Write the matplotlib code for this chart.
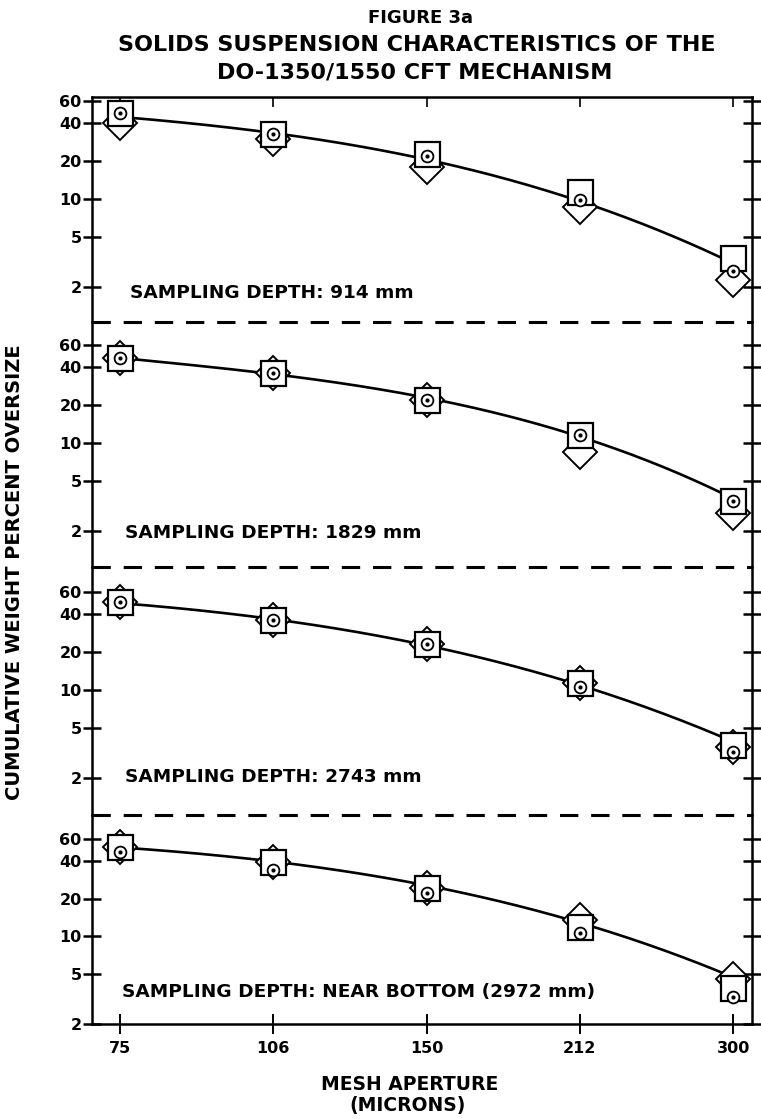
import numpy as np
import matplotlib
matplotlib.use("Agg")
import matplotlib.pyplot as plt

# --------------------------------------------------------------
# Data
# --------------------------------------------------------------
mesh = [75, 106, 150, 212, 300]
mesh_labels = ["75", "106", "150", "212", "300"]
depth_labels = [
    "SAMPLING DEPTH: 914 mm",
    "SAMPLING DEPTH: 1829 mm",
    "SAMPLING DEPTH: 2743 mm",
    "SAMPLING DEPTH: NEAR BOTTOM (2972 mm)",
]

# circle-with-dot series
circle_914 = [48, 33, 22, 9.8, 2.7]
circle_1829 = [47, 36, 22, 11.6, 3.5]
circle_2743 = [50, 36, 23, 10.5, 3.2]
circle_2972 = [47, 34, 22, 10.6, 3.3]

# square series
square_914 = [48, 33, 22.7, 11.4, 3.4]
square_1829 = [47, 36, 22, 11.6, 3.5]
square_2743 = [50, 36, 23, 11.3, 3.66]
square_2972 = [52, 39, 24.5, 11.9, 3.9]

# diamond series
diamond_914 = [40, 30, 18, 8.6, 2.3]
diamond_1829 = [47, 36, 22, 8.5, 2.8]
diamond_2743 = [50, 36, 23, 11.3, 3.5]
diamond_2972 = [52, 39, 24.5, 13.6, 4.6]

# fitted curve values at each mesh size
curve_914 = [45, 33, 21, 9.5, 3.1]
curve_1829 = [47, 36, 22, 11.5, 3.6]
curve_2743 = [49, 36, 23, 10.8, 3.9]
curve_2972 = [51, 40, 25, 13, 4.7]

circles = [circle_914, circle_1829, circle_2743, circle_2972]
squares = [square_914, square_1829, square_2743, square_2972]
diamonds = [diamond_914, diamond_1829, diamond_2743, diamond_2972]
curves = [curve_914, curve_1829, curve_2743, curve_2972]

yticks = [2, 5, 10, 20, 40, 60]
ylims = [(1.06, 64.5), (1.04, 91), (1.02, 94.5), (2.0, 92.8)]

# --------------------------------------------------------------
# Figure layout
# --------------------------------------------------------------
W, H = 761, 1119
fig = plt.figure(figsize=(W / 100, H / 100), dpi=100)
plt.rcParams["font.family"] = ["DejaVu Sans"]
plt.rcParams["font.weight"] = "bold"

left_px, right_px = 92, 752
bounds = [97, 322, 567, 815, 1024]  # panel edges, px from top
text_pos = [(0.058, 0.129), (0.05, 0.139), (0.05, 0.153), (0.045, 0.153)]

axes = []
for i in range(4):
    top, bot = bounds[i], bounds[i + 1]
    ax = fig.add_axes([left_px / W, 1 - bot / H, (right_px - left_px) / W, (bot - top) / H])
    ax.patch.set_alpha(0)
    axes.append(ax)
    ax.set_xscale("log")
    ax.set_yscale("log")
    ax.set_xlim(70.4, 313)
    ax.set_ylim(*ylims[i])

    # smooth curve through the data (cubic in log-log)
    lx = np.log10(mesh)
    coef = np.polyfit(lx, np.log10(curves[i]), 3)
    xs = np.logspace(lx[0], lx[-1], 200)
    ax.plot(xs, 10 ** np.polyval(coef, np.log10(xs)), color="black", lw=1.9, zorder=2)

    ax.plot(mesh, diamonds[i], "D", ms=17.5, mfc="white", mec="black", mew=1.4,
            zorder=3, clip_on=False, ls="none")
    ax.plot(mesh, squares[i], "s", ms=18, mfc="white", mec="black", mew=1.6,
            zorder=4, clip_on=False, ls="none")
    ax.plot(mesh, circles[i], "o", ms=8.5, mfc="white", mec="black", mew=1.3,
            zorder=5, clip_on=False, ls="none")
    ax.plot(mesh, circles[i], "o", ms=2, mfc="black", mec="black",
            zorder=6, clip_on=False, ls="none")

    ax.text(text_pos[i][0], text_pos[i][1], depth_labels[i], transform=ax.transAxes,
            fontsize=13.3, fontweight="bold", va="center", ha="left")

    ax.yaxis.set_minor_locator(matplotlib.ticker.NullLocator())
    ax.xaxis.set_minor_locator(matplotlib.ticker.NullLocator())
    ax.set_yticks(yticks)
    ax.set_yticklabels([str(t) for t in yticks])
    ax.tick_params(axis="y", which="major", direction="inout", length=13, width=1.8,
                   labelsize=11.5, right=True, pad=1)
    for lab in ax.get_yticklabels():
        lab.set_fontweight("bold")

    for s in ax.spines.values():
        s.set_linewidth(1.8)

    if i < 3:
        ax.spines["bottom"].set_visible(False)
        # dashed separator between panels
        sep, = ax.plot([0, 1], [0, 0], transform=ax.transAxes, color="black",
                       lw=2.2, clip_on=False, zorder=10)
        sep.set_dashes((6.0, 4.2))
    if i > 0:
        ax.spines["top"].set_visible(False)

    if i == 3:
        ax.set_xticks(mesh)
        ax.set_xticklabels(mesh_labels, fontsize=11.5, fontweight="bold")
        ax.tick_params(axis="x", which="major", direction="inout", length=14, width=1.4,
                       bottom=True, top=False, pad=5)
    elif i == 0:
        ax.set_xticks(mesh)
        ax.set_xticklabels([])
        ax.tick_params(axis="x", which="major", direction="in", length=7, width=1.2,
                       bottom=False, top=True, labelbottom=False)
    else:
        ax.set_xticks([])

# --------------------------------------------------------------
# Titles and labels
# --------------------------------------------------------------
fig.text(420 / W, 1 - 18 / H, "FIGURE 3a", ha="center", va="center",
         fontsize=13, fontweight="bold")
fig.text(417 / W, 1 - 45 / H, "SOLIDS SUSPENSION CHARACTERISTICS OF THE", ha="center",
         va="center", fontsize=16, fontweight="bold")
fig.text(415 / W, 1 - 73 / H, "DO-1350/1550 CFT MECHANISM", ha="center", va="center",
         fontsize=16, fontweight="bold")

fig.text(15 / W, 1 - 572 / H, "CUMULATIVE WEIGHT PERCENT OVERSIZE", rotation=90,
         ha="center", va="center", fontsize=14, fontweight="bold")
fig.text(410 / W, 1 - 1085 / H, "MESH APERTURE", ha="center", va="center",
         fontsize=13.5, fontweight="bold")
fig.text(408 / W, 1 - 1106 / H, "(MICRONS)", ha="center", va="center",
         fontsize=13.5, fontweight="bold")

fig.savefig("out.png", dpi=100, facecolor="white")
